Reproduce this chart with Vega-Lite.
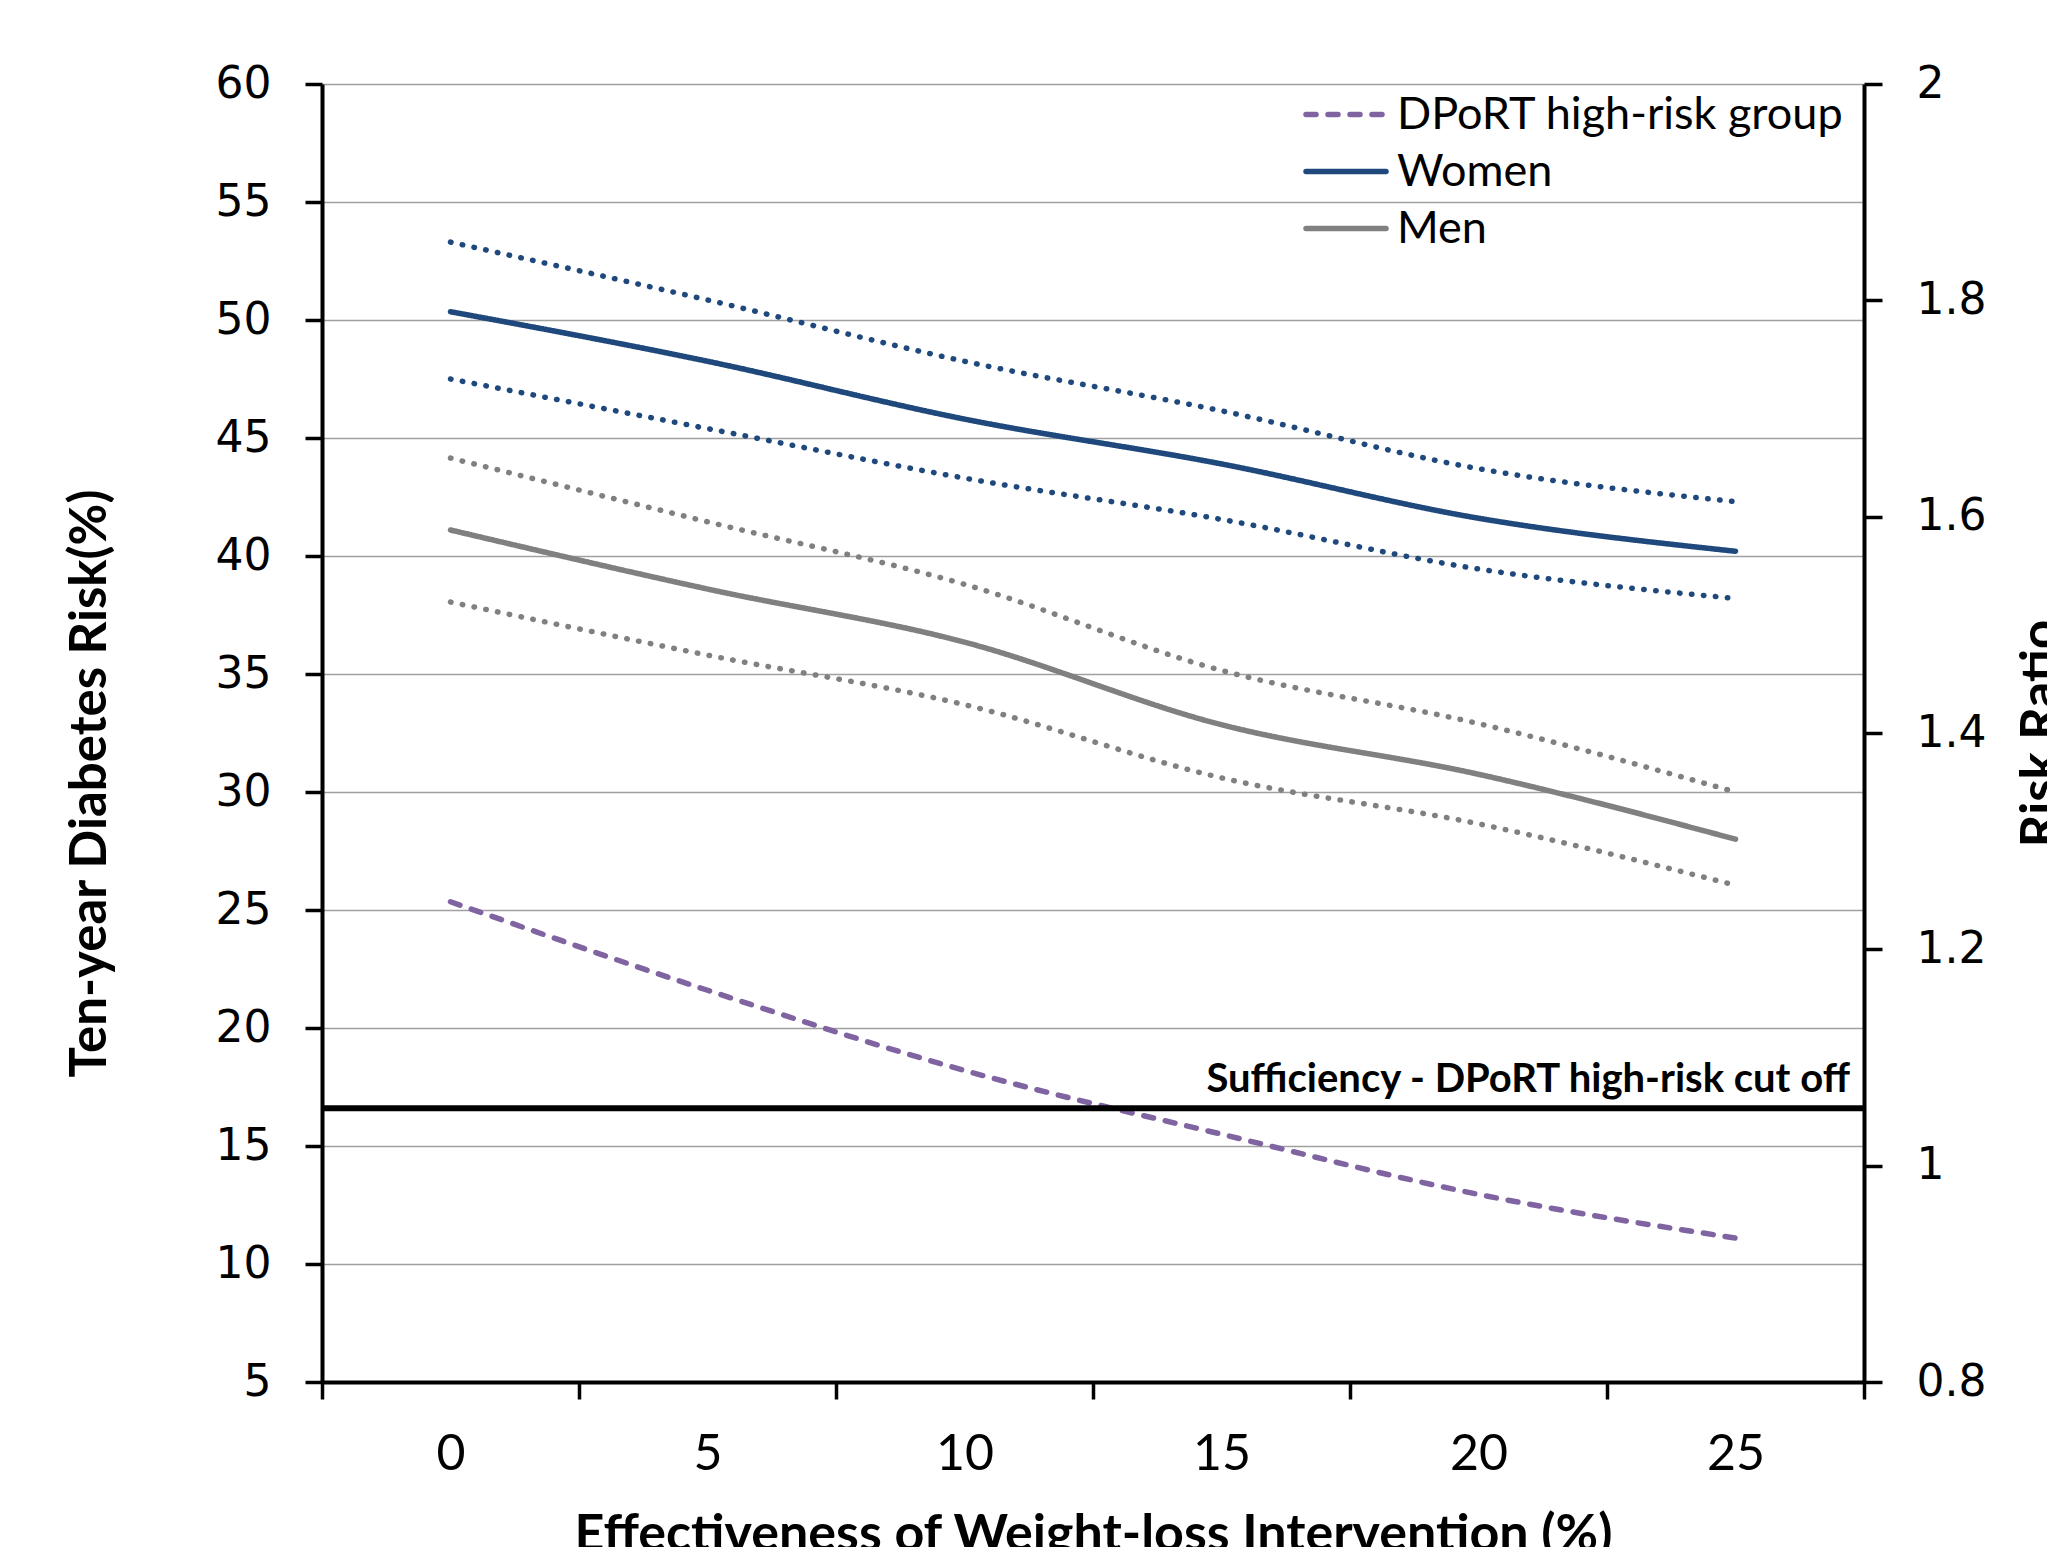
{
  "$schema": "https://vega.github.io/schema/vega-lite/v6.json",
  "autosize": {"type": "none"},
  "width": 1542,
  "height": 1298,
  "padding": {"left": 322, "top": 84, "right": 183, "bottom": 165},
  "background": "white",
  "config": {
    "view": {"stroke": null},
    "axis": {"domainColor": "black", "tickColor": "black", "labelColor": "black", "titleColor": "black"}
  },
  "datasets": {
    "series": [
      {"effect": 0, "series": "Women", "risk": 50.35},
      {"effect": 5, "series": "Women", "risk": 48.25},
      {"effect": 10, "series": "Women", "risk": 45.8},
      {"effect": 15, "series": "Women", "risk": 43.9},
      {"effect": 20, "series": "Women", "risk": 41.6},
      {"effect": 25, "series": "Women", "risk": 40.2},
      {"effect": 0, "series": "Women upper", "risk": 53.3},
      {"effect": 5, "series": "Women upper", "risk": 50.85},
      {"effect": 10, "series": "Women upper", "risk": 48.25},
      {"effect": 15, "series": "Women upper", "risk": 46.15},
      {"effect": 20, "series": "Women upper", "risk": 43.7},
      {"effect": 25, "series": "Women upper", "risk": 42.3},
      {"effect": 0, "series": "Women lower", "risk": 47.5},
      {"effect": 5, "series": "Women lower", "risk": 45.4},
      {"effect": 10, "series": "Women lower", "risk": 43.3},
      {"effect": 15, "series": "Women lower", "risk": 41.55},
      {"effect": 20, "series": "Women lower", "risk": 39.45},
      {"effect": 25, "series": "Women lower", "risk": 38.2},
      {"effect": 0, "series": "Men", "risk": 41.1},
      {"effect": 5, "series": "Men", "risk": 38.6},
      {"effect": 10, "series": "Men", "risk": 36.35},
      {"effect": 15, "series": "Men", "risk": 32.85},
      {"effect": 20, "series": "Men", "risk": 30.75},
      {"effect": 25, "series": "Men", "risk": 28.0},
      {"effect": 0, "series": "Men upper", "risk": 44.15},
      {"effect": 5, "series": "Men upper", "risk": 41.45},
      {"effect": 10, "series": "Men upper", "risk": 38.8},
      {"effect": 15, "series": "Men upper", "risk": 35.15},
      {"effect": 20, "series": "Men upper", "risk": 32.9},
      {"effect": 25, "series": "Men upper", "risk": 30.0},
      {"effect": 0, "series": "Men lower", "risk": 38.05},
      {"effect": 5, "series": "Men lower", "risk": 35.8},
      {"effect": 10, "series": "Men lower", "risk": 33.7},
      {"effect": 15, "series": "Men lower", "risk": 30.6},
      {"effect": 20, "series": "Men lower", "risk": 28.65},
      {"effect": 25, "series": "Men lower", "risk": 26.05},
      {"effect": 0, "series": "DPoRT high-risk group", "risk": 25.35},
      {"effect": 5, "series": "DPoRT high-risk group", "risk": 21.6},
      {"effect": 10, "series": "DPoRT high-risk group", "risk": 18.2},
      {"effect": 15, "series": "DPoRT high-risk group", "risk": 15.5},
      {"effect": 20, "series": "DPoRT high-risk group", "risk": 12.95},
      {"effect": 25, "series": "DPoRT high-risk group", "risk": 11.1}
    ],
    "cutoff": [
      {"risk": 16.6, "label": "Sufficiency - DPoRT high-risk cut off", "effect": 25}
    ]
  },
  "layer": [
    {
      "layer": [
        {
          "data": {"name": "series"},
          "mark": {"type": "line", "interpolate": "monotone", "strokeWidth": 5.5, "strokeCap": "round"},
          "encoding": {
            "x": {
              "field": "effect", "type": "ordinal",
              "scale": {"type": "band", "paddingInner": 0, "paddingOuter": 0},
              "axis": {
                "title": "Effectiveness of Weight-loss Intervention (%)",
                "labelAngle": 0,
                "tickBand": "extent",
                "domainWidth": 4, "tickWidth": 3.5, "tickSize": 17,
                "labelFont": "Lato", "labelFontSize": 50, "labelPadding": 30,
                "titleFont": "Lato", "titleFontWeight": "bold", "titleFontSize": 52,
                "titleBaseline": "alphabetic", "titleY": 168,
                "grid": false
              }
            },
            "y": {
              "field": "risk", "type": "quantitative",
              "scale": {"domain": [5, 60], "nice": false, "zero": false},
              "axis": {
                "title": "Ten-year Diabetes Risk(%)",
                "values": [5, 10, 15, 20, 25, 30, 35, 40, 45, 50, 55, 60],
                "grid": true, "gridColor": "#A0A0A0", "gridWidth": 1.5,
                "domainWidth": 4, "tickWidth": 3.5, "tickSize": 17,
                "labelFont": "DejaVu Sans", "labelFontSize": 44, "labelPadding": 34,
                "titleFont": "Lato", "titleFontWeight": "bold", "titleFontSize": 51,
                "titleAngle": 270, "titleAlign": "center", "titleBaseline": "middle",
                "titleX": -232, "titleY": 699
              }
            },
            "color": {
              "field": "series", "type": "nominal",
              "scale": {
                "domain": ["DPoRT high-risk group", "Women", "Men", "Women upper", "Women lower", "Men upper", "Men lower"],
                "range": ["#8064A2", "#1F497D", "#808080", "#1F497D", "#1F497D", "#808080", "#808080"]
              },
              "legend": {
                "title": null,
                "values": ["DPoRT high-risk group", "Women", "Men"],
                "orient": "none", "legendX": 981, "legendY": 2,
                "symbolType": "stroke", "symbolSize": 6400, "symbolStrokeWidth": 5.5,
                "labelFont": "Lato", "labelFontSize": 45, "labelColor": "black",
                "labelOffset": 8, "rowPadding": 0, "clipHeight": 57,
                "labelLimit": 1000,
                "encode": {"symbols": {"update": {"strokeCap": {"value": "round"}}}}
              }
            },
            "strokeDash": {
              "field": "series", "type": "nominal",
              "scale": {
                "domain": ["DPoRT high-risk group", "Women", "Men", "Women upper", "Women lower", "Men upper", "Men lower"],
                "range": [[10, 12], [1, 0], [1, 0], [0.5, 11.5], [0.5, 11.5], [0.5, 11.5], [0.5, 11.5]]
              },
              "legend": {
                "title": null,
                "values": ["DPoRT high-risk group", "Women", "Men"],
                "orient": "none", "legendX": 981, "legendY": 2,
                "symbolType": "stroke", "symbolSize": 6400, "symbolStrokeWidth": 5.5,
                "labelFont": "Lato", "labelFontSize": 45, "labelColor": "black",
                "labelOffset": 8, "rowPadding": 0, "clipHeight": 57,
                "labelLimit": 1000,
                "encode": {"symbols": {"update": {"strokeCap": {"value": "round"}}}}
              }
            }
          }
        },
        {
          "data": {"name": "cutoff"},
          "mark": {"type": "rule", "color": "black", "strokeWidth": 6},
          "encoding": {
            "y": {"field": "risk", "type": "quantitative"}
          }
        },
        {
          "data": {"name": "cutoff"},
          "mark": {"type": "text", "align": "right", "baseline": "alphabetic", "dx": -14, "dy": -16, "font": "Lato", "fontWeight": "bold", "fontSize": 40, "color": "black"},
          "encoding": {
            "x": {"field": "effect", "type": "ordinal", "bandPosition": 1},
            "y": {"field": "risk", "type": "quantitative"},
            "text": {"field": "label"}
          }
        }
      ]
    },
    {
      "data": {"name": "series"},
      "mark": {"type": "point", "opacity": 0, "clip": true},
      "encoding": {
        "x": {"field": "effect", "type": "ordinal"},
        "y": {
          "field": "risk", "type": "quantitative",
          "scale": {"domain": [0.8, 2], "nice": false, "zero": false},
          "axis": {
            "orient": "right",
            "title": "Risk Ratio",
            "values": [0.8, 1, 1.2, 1.4, 1.6, 1.8, 2],
            "format": "~g",
            "grid": false,
            "domainWidth": 4, "tickWidth": 3.5, "tickSize": 18,
            "labelFont": "DejaVu Sans", "labelFontSize": 44, "labelPadding": 34,
            "titleFont": "Lato", "titleFontWeight": "bold", "titleFontSize": 51,
            "titleAngle": 270, "titleAlign": "center", "titleBaseline": "top",
            "titleX": 152, "titleY": 649
          }
        }
      }
    }
  ],
  "resolve": {"scale": {"y": "independent"}}
}
